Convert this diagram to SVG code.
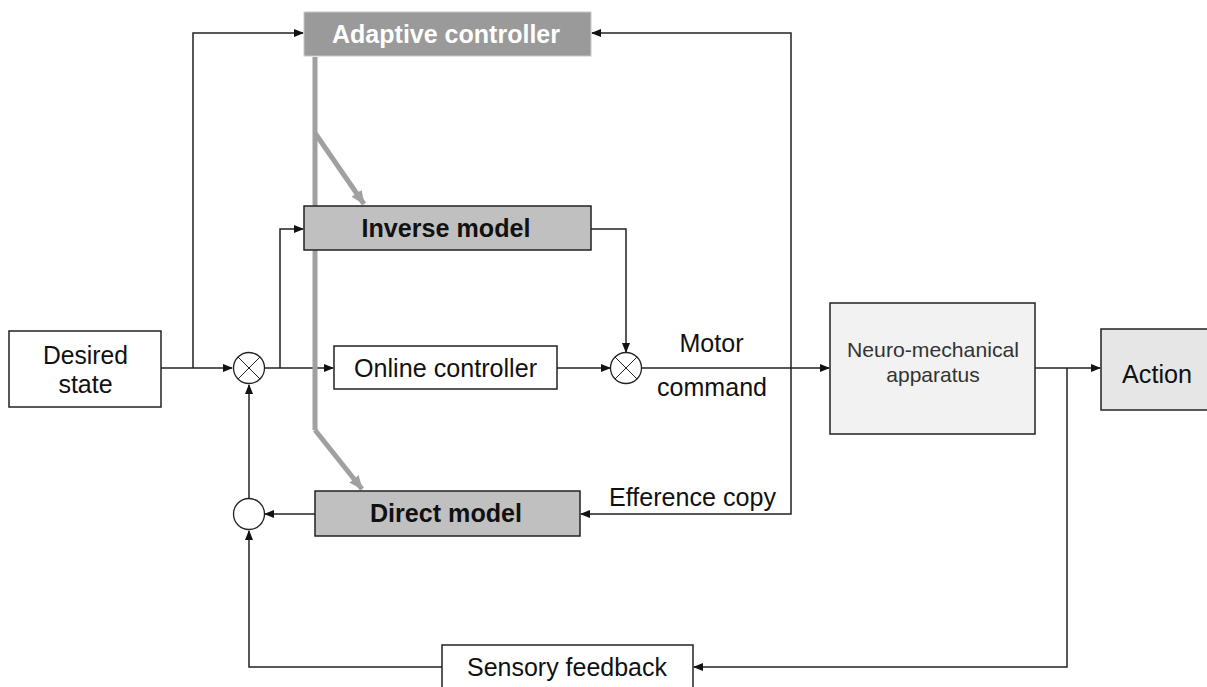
<svg xmlns="http://www.w3.org/2000/svg" width="1207" height="687" viewBox="0 0 1207 687">
<defs>
<marker id="ah" markerWidth="10" markerHeight="8" refX="9" refY="4" orient="auto" markerUnits="userSpaceOnUse">
<path d="M0,0 L10,4 L0,8 Z" fill="#111"/>
</marker>
<marker id="gh" markerWidth="14" markerHeight="12" refX="13" refY="6" orient="auto" markerUnits="userSpaceOnUse">
<path d="M0,0 L14,6 L0,12 Z" fill="#a0a0a0"/>
</marker>
<style>
.box{stroke:#222;stroke-width:1.5}
.t{font-family:"Liberation Sans",Arial,sans-serif;font-size:25px;fill:#111;text-anchor:middle}
.b{font-weight:bold}
.c{fill:none;stroke:#222;stroke-width:1.5}
.g{fill:none;stroke:#a0a0a0;stroke-width:5}
</style>
</defs>
<rect width="1207" height="687" fill="#fff"/>
<g id="connectors">
<path class="c" d="M161,368 L232,368" marker-end="url(#ah)"/>
<path class="c" d="M193,368 L193,33 L303,33" marker-end="url(#ah)"/>
<path class="c" d="M264,368 L333,368" marker-end="url(#ah)"/>
<path class="c" d="M280,368 L280,229 L303,229" marker-end="url(#ah)"/>
<path class="c" d="M557,368 L610,368" marker-end="url(#ah)"/>
<path class="c" d="M591,229 L626,229 L626,352" marker-end="url(#ah)"/>
<path class="c" d="M642,368 L829,368" marker-end="url(#ah)"/>
<path class="c" d="M791,368 L791,33 L592,33" marker-end="url(#ah)"/>
<path class="c" d="M791,368 L791,514 L581,514" marker-end="url(#ah)"/>
<path class="c" d="M315,514 L265,514" marker-end="url(#ah)"/>
<path class="c" d="M249,498 L249,385" marker-end="url(#ah)"/>
<path class="c" d="M442,667 L249,667 L249,531" marker-end="url(#ah)"/>
<path class="c" d="M1035,368 L1100,368" marker-end="url(#ah)"/>
<path class="c" d="M1067,368 L1067,667 L694,667" marker-end="url(#ah)"/>
<path class="g" d="M315,57 L315,430"/>
<path class="g" d="M315,133 L364,204" marker-end="url(#gh)"/>
<path class="g" d="M315,430 L362,489" marker-end="url(#gh)"/>
</g>
<g id="adaptive-controller">
<rect x="304" y="12" width="287" height="44" fill="#9a9a9a" stroke="#c8c8c8" stroke-width="1"/>
<text class="t b" x="446" y="43" style="fill:#fff" textLength="228" lengthAdjust="spacingAndGlyphs">Adaptive controller</text>
</g>
<g id="inverse-model">
<rect class="box" x="304" y="206" width="287" height="44" fill="#c0c0c0"/>
<text class="t b" x="446" y="237" textLength="169" lengthAdjust="spacingAndGlyphs">Inverse model</text>
</g>
<g id="desired-state">
<rect class="box" x="9" y="331" width="152" height="76" fill="#fff"/>
<text class="t" x="85.5" y="364" textLength="85" lengthAdjust="spacingAndGlyphs">Desired</text>
<text class="t" x="85.5" y="393">state</text>
</g>
<g id="sum1">
<circle cx="249" cy="368" r="15.5" fill="#fff" stroke="#222" stroke-width="1.3"/>
<path d="M238,357 L260,379 M260,357 L238,379" stroke="#222" stroke-width="1"/>
</g>
<g id="online-controller">
<rect class="box" x="334" y="346" width="223" height="43" fill="#fff"/>
<text class="t" x="445.5" y="377" textLength="183" lengthAdjust="spacingAndGlyphs">Online controller</text>
</g>
<g id="sum2">
<circle cx="626" cy="368" r="15.5" fill="#fff" stroke="#222" stroke-width="1.3"/>
<path d="M615,357 L637,379 M637,357 L615,379" stroke="#222" stroke-width="1"/>
</g>
<g id="motor-command">
<text class="t" x="711.5" y="352" textLength="64" lengthAdjust="spacingAndGlyphs">Motor</text>
<text class="t" x="712" y="396" textLength="110" lengthAdjust="spacingAndGlyphs">command</text>
</g>
<g id="neuro-mechanical">
<rect class="box" x="830" y="303" width="205" height="131" fill="#f2f2f2"/>
<text class="t" x="933" y="357" style="font-size:21px;fill:#333" textLength="172" lengthAdjust="spacingAndGlyphs">Neuro-mechanical</text>
<text class="t" x="933" y="382" style="font-size:21px;fill:#333">apparatus</text>
</g>
<g id="action">
<rect class="box" x="1101" y="329" width="110" height="81" fill="#e6e6e6"/>
<text class="t" x="1157" y="383" textLength="70" lengthAdjust="spacingAndGlyphs">Action</text>
</g>
<g id="efference-copy">
<text class="t" x="692.5" y="506" textLength="167" lengthAdjust="spacingAndGlyphs">Efference copy</text>
</g>
<g id="direct-model">
<rect class="box" x="315" y="491" width="265" height="45" fill="#c0c0c0"/>
<text class="t b" x="446" y="522" textLength="152" lengthAdjust="spacingAndGlyphs">Direct model</text>
</g>
<g id="sum3">
<circle cx="249" cy="514" r="15.5" fill="#fff" stroke="#222" stroke-width="1.3"/>
</g>
<g id="sensory-feedback">
<rect class="box" x="442" y="645" width="251" height="50" fill="#fff"/>
<text class="t" x="567" y="676" textLength="200" lengthAdjust="spacingAndGlyphs">Sensory feedback</text>
</g>
</svg>
